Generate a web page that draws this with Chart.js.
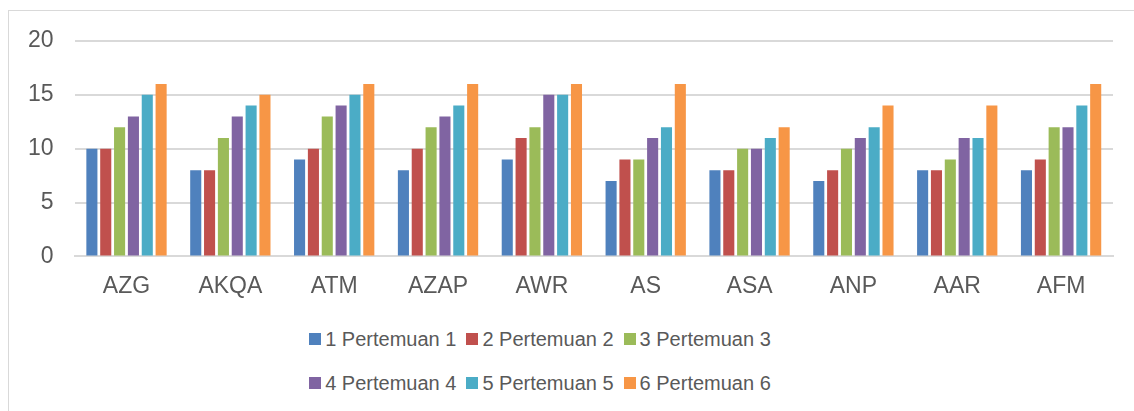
<!DOCTYPE html>
<html>
<head>
<meta charset="utf-8">
<script src="https://cdn.jsdelivr.net/npm/chart.js@4.4.1/dist/chart.umd.min.js"></script>
<style>
  html, body { margin: 0; padding: 0; background: #fff; }
  body { width: 1134px; height: 411px; position: relative; overflow: hidden; font-family: "Liberation Sans", Arial, sans-serif; }
  #frame { position: absolute; left: 8px; top: 10px; width: 1200px; height: 500px; border: 1px solid #d9d9d9; box-sizing: border-box; }
  #wrap { position: absolute; left: 0; top: 0; width: 1134px; height: 316px; }
  #legend { position: absolute; left: 0; top: 317px; width: 1080px; color: #595959; font-size: 20px; }
  .row { display: flex; justify-content: center; height: 44px; align-items: center; }
  .item { display: flex; align-items: center; margin: 0 5px; white-space: nowrap; }
  .box { width: 12px; height: 12px; margin-right: 4px; }
</style>
</head>
<body>
<div id="frame"></div>
<div id="wrap"><canvas id="grafica"></canvas></div>
<div id="legend"></div>
<script>
// Datos de la grafica
var etiquetas = ['AZG', 'AKQA', 'ATM', 'AZAP', 'AWR', 'AS', 'ASA', 'ANP', 'AAR', 'AFM'];
var series = ['1 Pertemuan 1', '2 Pertemuan 2', '3 Pertemuan 3', '4 Pertemuan 4', '5 Pertemuan 5', '6 Pertemuan 6'];
var pertemuan1 = [10, 8, 9, 8, 9, 7, 8, 7, 8, 8];
var pertemuan2 = [10, 8, 10, 10, 11, 9, 8, 8, 8, 9];
var pertemuan3 = [12, 11, 13, 12, 12, 9, 10, 10, 9, 12];
var pertemuan4 = [13, 13, 14, 13, 15, 11, 10, 11, 11, 12];
var pertemuan5 = [15, 14, 15, 14, 15, 12, 11, 12, 11, 14];
var pertemuan6 = [16, 15, 16, 16, 16, 16, 12, 14, 14, 16];
var yTicks = [0, 5, 10, 15, 20];

var colores = ['#4F81BD', '#C0504D', '#9BBB59', '#8064A2', '#4BACC6', '#F79646'];
var valores = [pertemuan1, pertemuan2, pertemuan3, pertemuan4, pertemuan5, pertemuan6];

var datasets = [];
for (var i = 0; i < series.length; i++) {
    datasets.push({
        label: series[i],
        data: valores[i],
        backgroundColor: colores[i],
        categoryPercentage: 0.8,
        barPercentage: 0.8
    });
}

var texto = '#595959';
var fuente = { family: '"Liberation Sans", Arial, sans-serif', size: 23 };
var config = {
    type: 'bar',
    data: { labels: etiquetas, datasets: datasets },
    options: {
        responsive: true,
        maintainAspectRatio: false,
        animation: false,
        layout: { padding: { left: 7, right: 21, top: 41, bottom: 0 } },
        plugins: { legend: { display: false }, tooltip: { enabled: false } },
        scales: {
            x: {
                grid: { display: false, drawTicks: false },
                border: { display: true, color: '#d9d9d9', width: 2 },
                ticks: { color: texto, padding: 16, font: fuente }
            },
            y: {
                min: 0,
                max: 20,
                afterBuildTicks: function (scale) {
                    scale.ticks = yTicks.map(function (v) { return { value: v }; });
                },
                grid: { color: '#d9d9d9', lineWidth: 2, drawTicks: false },
                border: { display: false },
                ticks: { color: texto, padding: 21, font: fuente }
            }
        }
    }
};

var grafica = new Chart(document.getElementById('grafica'), config);

// Leyenda en dos filas
var leyenda = document.getElementById('legend');
var filas = [[0, 1, 2], [3, 4, 5]];
filas.forEach(function (fila) {
    var r = document.createElement('div');
    r.className = 'row';
    fila.forEach(function (k) {
        var it = document.createElement('div');
        it.className = 'item';
        var b = document.createElement('span');
        b.className = 'box';
        b.style.background = colores[k];
        var t = document.createElement('span');
        t.textContent = series[k];
        it.appendChild(b);
        it.appendChild(t);
        r.appendChild(it);
    });
    leyenda.appendChild(r);
});
</script>
</body>
</html>
